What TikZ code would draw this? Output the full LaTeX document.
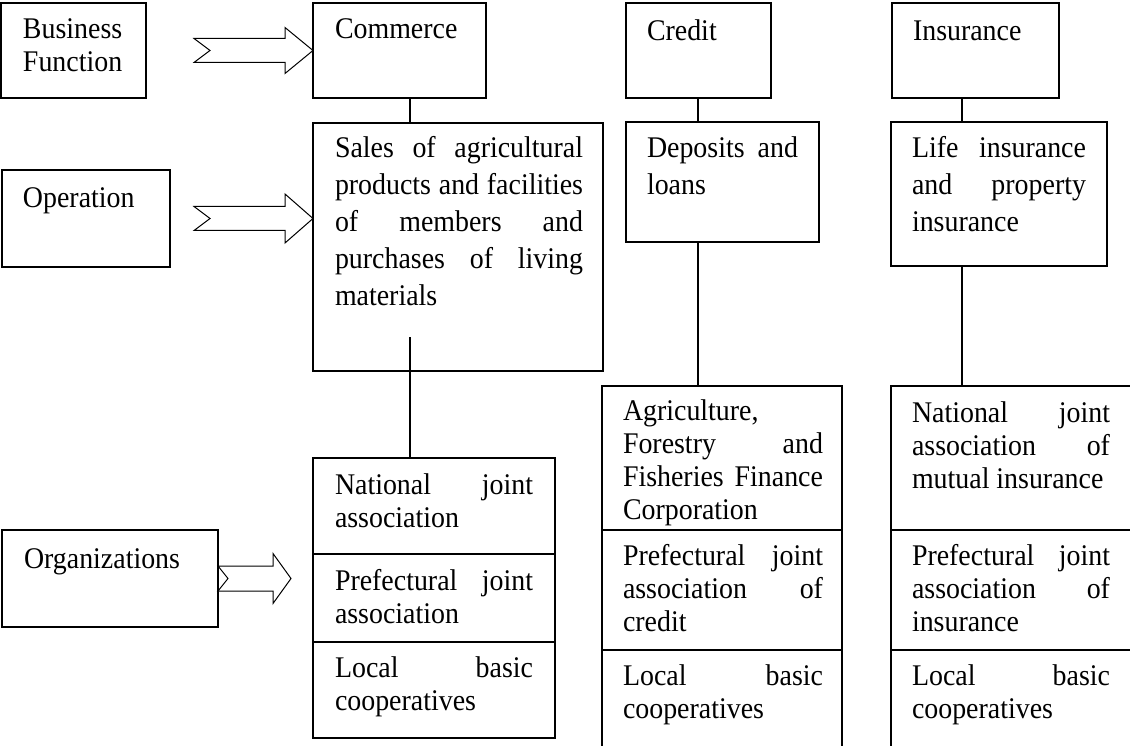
\documentclass[tikz,border=0pt]{standalone}
\usepackage{fontspec}
\setmainfont{Liberation Serif}[FakeStretch=0.93]
\usetikzlibrary{calc}
\tikzset{
  box/.style={draw, line width=1.3pt, anchor=north west, inner sep=0pt, outer sep=0pt},
  txt/.style={anchor=base west, inner sep=0pt, outer sep=0pt, font=\fontsize{30}{33}\selectfont},
  txtw/.style={txt, font=\fontsize{30}{37}\selectfont},
  conn/.style={line width=1.3pt},
  barrowst/.style={draw, line width=1pt, fill=white, line join=miter}
}
\newcommand\jline[1]{\makebox[\linewidth][s]{#1}}
\newcommand\barrow[6]{\draw[barrowst] let \p1=(#1), \p2=(#2) in
  (\x1,\y1+#5) -- (\x2-#4,\y1+#5) -- (\x2-#4,\y1+#6) -- (\x2,\y1) --
  (\x2-#4,\y1-#6) -- (\x2-#4,\y1-#5) -- (\x1,\y1-#5) -- (\x1+#3,\y1) -- cycle;}
\begin{document}
\begin{tikzpicture}[x=1pt,y=-1pt]
\useasboundingbox (0,0) rectangle (1130,746);
\clip (0,0) rectangle (1130,746);
\fill[white] (0,0) rectangle (1130,746);

% top row
\node[box, minimum width=145pt, minimum height=95pt] (bf) at (1,3) {};
\node[box, minimum width=173pt, minimum height=95pt] (cm) at (313,3) {};
\node[box, minimum width=145pt, minimum height=95pt] (cr) at (626,3) {};
\node[box, minimum width=167pt, minimum height=95pt] (in) at (892,3) {};
% operation row
\node[box, minimum width=168pt, minimum height=97pt] (op) at (2,170) {};
\node[box, minimum width=290pt, minimum height=248pt] (sa) at (313,123) {};
\node[box, minimum width=193pt, minimum height=120pt] (de) at (626,122) {};
\node[box, minimum width=216pt, minimum height=144pt] (li) at (891,122) {};
% organizations
\node[box, minimum width=216pt, minimum height=97pt] (og) at (2,530) {};
\node[box, minimum width=242pt, minimum height=96pt] (c1) at (313,458) {};
\node[box, minimum width=242pt, minimum height=88pt] (c2) at (313,554) {};
\node[box, minimum width=242pt, minimum height=96pt] (c3) at (313,642) {};
\node[box, minimum width=240pt, minimum height=144pt] (s1) at (602,386) {};
\node[box, minimum width=240pt, minimum height=120pt] (s2) at (602,530) {};
\node[box, minimum width=240pt, minimum height=110pt] (s3) at (602,650) {};
\node[box, minimum width=250pt, minimum height=144pt] (i1) at (891,386) {};
\node[box, minimum width=250pt, minimum height=120pt] (i2) at (891,530) {};
\node[box, minimum width=250pt, minimum height=110pt] (i3) at (891,650) {};

% connectors
\coordinate (xc) at (410,0);
\coordinate (stub) at (410,337);
\coordinate (xk) at (698,0);
\coordinate (xi) at (962,0);
\draw[conn] (cm.south -| xc) -- (sa.north -| xc);
\draw[conn] (stub) -- (c1.north -| stub);
\draw[conn] (cr.south -| xk) -- (de.north -| xk);
\draw[conn] (de.south -| xk) -- (s1.north -| xk);
\draw[conn] (in.south -| xi) -- (li.north -| xi);
\draw[conn] (li.south -| xi) -- (i1.north -| xi);

% block arrows
\coordinate (a1s) at ($(bf.east)+(48,0)$);
\coordinate (a2s) at ($(op.east)+(24,0)$);
\coordinate (a3e) at ($(c2.west |- og.east)+(-22,0)$);
\barrow{a1s}{cm.west |- bf.east}{16}{28}{12}{23}
\barrow{a2s}{sa.west |- op.east}{16}{28}{12}{24.5}
\barrow{og.east}{a3e}{10}{18}{12.5}{25}

% texts
\node[txt] (tbf) at (23,39) {\parbox[t]{120pt}{Business\\Function}};
\node[txt] (tcm) at (335,39) {Commerce};
\node[txt] (tcr) at (647,41) {Credit};
\node[txt] (tin) at (913,41) {Insurance};
\node[txt] (top) at (23,208) {Operation};
\node[txt] (tog) at (24,568) {Organizations};

\node[txtw] (tsa) at (335,158) {\parbox[t]{248pt}{\jline{Sales of agricultural}\\\jline{products and facilities}\\\jline{of members and}\\\jline{purchases of living}\\materials}};
\node[txtw] (tde) at (647,158) {\parbox[t]{151pt}{\jline{Deposits and}\\loans}};
\node[txtw] (tli) at (912,158) {\parbox[t]{174pt}{\jline{Life insurance}\\\jline{and property}\\insurance}};

\node[txt] (tc1) at (335,494) {\parbox[t]{198pt}{\jline{National joint}\\association}};
\node[txt] (tc2) at (335,590) {\parbox[t]{198pt}{\jline{Prefectural joint}\\association}};
\node[txt] (tc3) at (335,677) {\parbox[t]{198pt}{\jline{Local basic}\\cooperatives}};

\node[txt] (ts1) at (623,420) {\parbox[t]{200pt}{Agriculture,\\\jline{Forestry and}\\\jline{Fisheries Finance}\\Corporation}};
\node[txt] (ts2) at (623,565) {\parbox[t]{200pt}{\jline{Prefectural joint}\\\jline{association of}\\credit}};
\node[txt] (ts3) at (623,685) {\parbox[t]{200pt}{\jline{Local basic}\\cooperatives}};

\node[txt] (ti1) at (912,422) {\parbox[t]{198pt}{\jline{National joint}\\\jline{association of}\\mutual insurance}};
\node[txt] (ti2) at (912,565) {\parbox[t]{198pt}{\jline{Prefectural joint}\\\jline{association of}\\insurance}};
\node[txt] (ti3) at (912,685) {\parbox[t]{198pt}{\jline{Local basic}\\cooperatives}};
\end{tikzpicture}
\end{document}
